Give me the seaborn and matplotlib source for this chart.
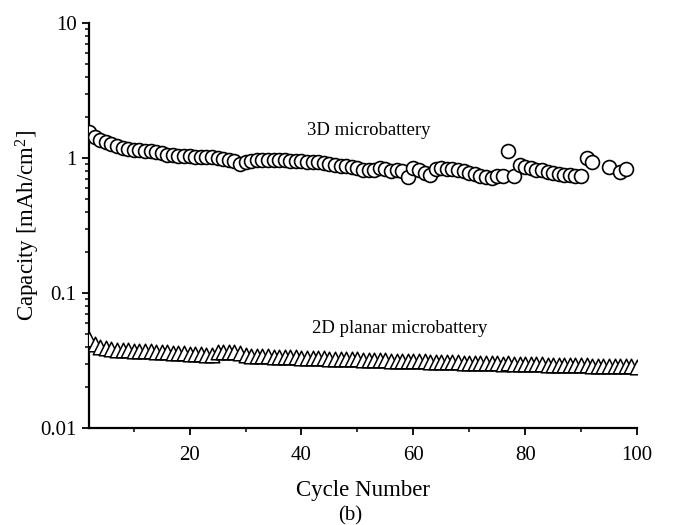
import matplotlib
matplotlib.use("Agg")
import matplotlib.pyplot as plt
import matplotlib.ticker as mticker
import seaborn as sns
import pandas as pd

# ---------------- data ----------------
cycles_3d = list(range(2, 93)) + [95, 97, 98]
cap_3d = [
    1.55, 1.42, 1.37, 1.31, 1.26, 1.22, 1.19, 1.17, 1.15,              # 2-10
    1.14, 1.13, 1.12, 1.10, 1.08, 1.06, 1.05, 1.04, 1.03, 1.03,        # 11-20
    1.02, 1.02, 1.02, 1.01, 1.00, 0.99, 0.97, 0.95, 0.91, 0.94,        # 21-30
    0.95, 0.97, 0.97, 0.96, 0.96, 0.96, 0.96, 0.95, 0.95, 0.95,        # 31-40
    0.94, 0.94, 0.93, 0.92, 0.90, 0.88, 0.87, 0.87, 0.86, 0.84,        # 41-50
    0.82, 0.81, 0.82, 0.84, 0.83, 0.80, 0.82, 0.80, 0.72, 0.84,        # 51-60
    0.81, 0.77, 0.75, 0.83, 0.84, 0.83, 0.83, 0.82, 0.80, 0.78,        # 61-70
    0.76, 0.74, 0.72, 0.71, 0.73, 0.74, 1.12, 0.74, 0.88, 0.86,        # 71-80
    0.84, 0.82, 0.82, 0.79, 0.77, 0.76, 0.75, 0.75, 0.74, 0.73,        # 81-90
    1.00, 0.93,                                                        # 91-92
    0.86, 0.79, 0.83,                                                  # 95, 97, 98
]

cycles_2d = list(range(2, 101))
cap_2d = [
    0.046, 0.042, 0.040, 0.039, 0.0385, 0.038, 0.038, 0.0377, 0.0375,            # 2-10
    0.0373, 0.037, 0.037, 0.0368, 0.0365, 0.0363, 0.036, 0.036, 0.0358, 0.0356,  # 11-20
    0.0355, 0.0353, 0.035, 0.0348, 0.0368, 0.0367, 0.0365, 0.0363, 0.036, 0.0345,  # 21-30
    0.0343, 0.0342, 0.034, 0.034, 0.0338, 0.0337, 0.0335, 0.0334, 0.0333, 0.0332,  # 31-40
    0.0331, 0.033, 0.0329, 0.0328, 0.0327, 0.0326, 0.0325, 0.0324, 0.0323, 0.0322,  # 41-50
    0.0321, 0.032, 0.0319, 0.0318, 0.0317, 0.0316, 0.0315, 0.0314, 0.0313, 0.0312,  # 51-60
    0.0311, 0.0312, 0.031, 0.0309, 0.0308, 0.0308, 0.0307, 0.0306, 0.0305, 0.0305,  # 61-70
    0.0304, 0.0303, 0.0302, 0.0302, 0.0301, 0.030, 0.0301, 0.0299, 0.0298, 0.0298,  # 71-80
    0.0297, 0.0297, 0.0296, 0.0295, 0.0295, 0.0294, 0.0293, 0.0293, 0.0292, 0.0291,  # 81-90
    0.0291, 0.029, 0.029, 0.0289, 0.0288, 0.0288, 0.0287, 0.0286, 0.0286, 0.0285,  # 91-100
]

x_ticks = [20, 40, 60, 80, 100]
y_ticks = [0.01, 0.1, 1, 10]
y_tick_labels = ["0.01", "0.1", "1", "10"]
label_3d = "3D microbattery"
label_2d = "2D planar microbattery"

# ---------------- style ----------------
sns.set_theme(style="ticks")
plt.rcParams["font.family"] = ["Liberation Serif", "DejaVu Serif"]
plt.rcParams["mathtext.fontset"] = "custom"
plt.rcParams["mathtext.rm"] = "Liberation Serif"
plt.rcParams["mathtext.it"] = "Liberation Serif:italic"
plt.rcParams["text.color"] = "black"
plt.rcParams["axes.labelcolor"] = "black"
plt.rcParams["xtick.color"] = "black"
plt.rcParams["ytick.color"] = "black"

fig = plt.figure(figsize=(6.73, 5.25), dpi=100)
ax = fig.add_axes([89 / 673, (525 - 428) / 525, (637 - 89) / 673, (428 - 23) / 525])

df2 = pd.DataFrame({"cycle": cycles_2d, "cap": cap_2d})
df3 = pd.DataFrame({"cycle": cycles_3d, "cap": cap_3d})

sns.scatterplot(data=df2, x="cycle", y="cap", marker="^", s=110, color="white",
                edgecolor="black", linewidth=1.1, ax=ax, zorder=3)
sns.scatterplot(data=df3, x="cycle", y="cap", marker="o", s=100, color="white",
                edgecolor="black", linewidth=1.2, ax=ax, zorder=3)

ax.set_yscale("log")
ax.set_xlim(2, 100)
ax.set_ylim(0.01, 10)
ax.set_xticks(x_ticks)
ax.xaxis.set_minor_locator(mticker.MultipleLocator(10))
ax.set_yticks(y_ticks)
ax.set_yticklabels(y_tick_labels)
ax.yaxis.set_minor_locator(mticker.LogLocator(base=10, subs=range(2, 10)))
ax.yaxis.set_minor_formatter(mticker.NullFormatter())

for s in ["top", "right"]:
    ax.spines[s].set_visible(False)
for s in ["left", "bottom"]:
    ax.spines[s].set_linewidth(1.6)
    ax.spines[s].set_color("black")

ax.tick_params(axis="both", which="major", direction="out", length=5, width=1.3,
               labelsize=15, colors="black", pad=4)
ax.tick_params(axis="x", which="major", pad=8)
ax.tick_params(axis="both", which="minor", direction="out", length=3, width=1.1,
               colors="black")

ax.set_xlabel("Cycle Number", fontsize=16.5, labelpad=11)
ax.set_ylabel("Capacity [mAh/cm$^2$]", fontsize=16.5, labelpad=-1)

ax.text(52, 1.6, label_3d, ha="center", va="center", fontsize=13.5)
ax.text(57.5, 0.055, label_2d, ha="center", va="center", fontsize=13.5)
fig.text(350 / 673, 1 - 516 / 525, "(b)", ha="center", va="center", fontsize=15)

fig.savefig("out.png", dpi=100)
